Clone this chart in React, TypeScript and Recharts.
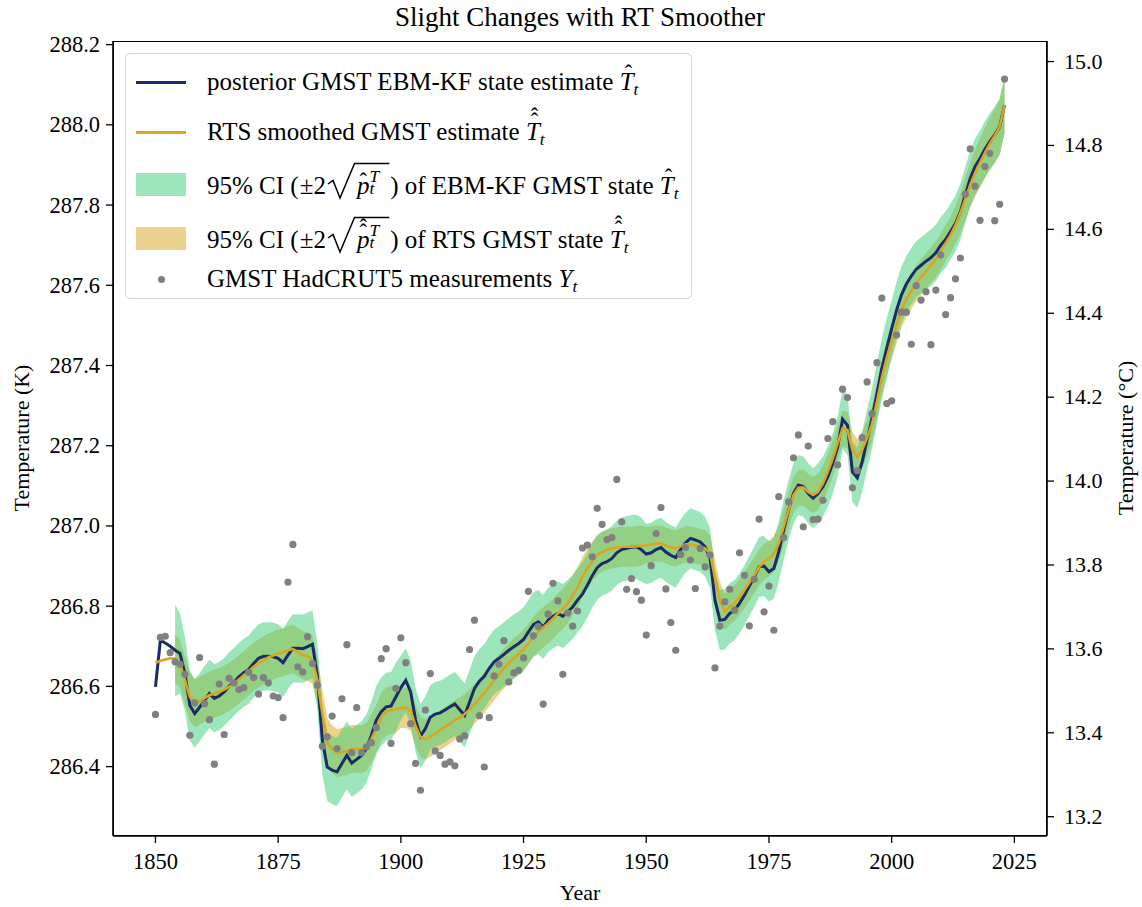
import React from 'react';
import { ComposedChart, Area, Line, Scatter, XAxis, YAxis } from 'recharts';

// annual values, 1850..2023
const firstYear = 1850;

const measured = [
  286.530, 286.722, 286.725, 286.684, 286.661, 286.655, 286.630, 286.478, 286.559, 286.672,
  286.557, 286.517, 286.406, 286.606, 286.480, 286.620, 286.609, 286.592, 286.597, 286.635,
  286.622, 286.581, 286.622, 286.609, 286.576, 286.572, 286.522, 286.860, 286.954, 286.649,
  286.636, 286.724, 286.657, 286.603, 286.451, 286.474, 286.526, 286.445, 286.569, 286.704,
  286.435, 286.547, 286.435, 286.449, 286.460, 286.497, 286.669, 286.694, 286.458, 286.595,
  286.721, 286.659, 286.507, 286.408, 286.341, 286.541, 286.632, 286.439, 286.428, 286.406,
  286.412, 286.402, 286.469, 286.477, 286.692, 286.765, 286.527, 286.399, 286.522, 286.626,
  286.655, 286.714, 286.611, 286.634, 286.640, 286.671, 286.837, 286.726, 286.749, 286.556,
  286.780, 286.857, 286.813, 286.630, 286.783, 286.750, 286.788, 286.945, 286.952, 286.923,
  287.044, 287.004, 286.966, 286.971, 287.116, 287.010, 286.842, 286.869, 286.836, 286.815,
  286.728, 286.901, 286.981, 287.046, 286.843, 286.759, 286.690, 286.929, 286.946, 286.915,
  286.844, 286.944, 286.898, 286.927, 286.646, 286.750, 286.811, 286.842, 286.790, 286.933,
  286.877, 286.751, 286.867, 287.017, 286.786, 286.850, 286.740, 287.073, 286.971, 287.060,
  287.170, 287.227, 286.998, 287.199, 287.016, 287.017, 287.064, 287.218, 287.260, 287.152,
  287.341, 287.320, 287.095, 287.138, 287.220, 287.359, 287.280, 287.407, 287.568, 287.305,
  287.312, 287.476, 287.533, 287.533, 287.453, 287.599, 287.563, 287.584, 287.452, 287.588,
  287.676, 287.527, 287.569, 287.616, 287.668, 287.827, 287.940, 287.847, 287.762, 287.896,
  287.929, 287.761, 287.802, 288.114,
];

const posterior = [
  286.599, 286.715, 286.708, 286.700, 286.690, 286.682, 286.632, 286.553, 286.532, 286.548,
  286.565, 286.582, 286.570, 286.576, 286.586, 286.600, 286.611, 286.624, 286.634, 286.642,
  286.657, 286.670, 286.675, 286.675, 286.674, 286.670, 286.659, 286.678, 286.695, 286.695,
  286.694, 286.699, 286.705, 286.624, 286.466, 286.399, 286.391, 286.387, 286.408, 286.428,
  286.409, 286.418, 286.428, 286.445, 286.478, 286.516, 286.537, 286.549, 286.551, 286.574,
  286.597, 286.615, 286.586, 286.516, 286.476, 286.495, 286.523, 286.531, 286.534, 286.541,
  286.549, 286.556, 286.542, 286.528, 286.561, 286.595, 286.613, 286.625, 286.645, 286.661,
  286.670, 286.680, 286.690, 286.699, 286.707, 286.717, 286.736, 286.754, 286.761, 286.748,
  286.765, 286.775, 286.782, 286.775, 286.786, 286.798, 286.815, 286.830, 286.852, 286.876,
  286.896, 286.906, 286.911, 286.919, 286.933, 286.941, 286.944, 286.947, 286.948, 286.941,
  286.930, 286.933, 286.941, 286.946, 286.935, 286.927, 286.921, 286.941, 286.958, 286.969,
  286.965, 286.960, 286.948, 286.920, 286.815, 286.765, 286.767, 286.782, 286.790, 286.807,
  286.827, 286.850, 286.873, 286.898, 286.900, 286.886, 286.894, 286.936, 286.990, 287.039,
  287.081, 287.102, 287.098, 287.081, 287.069, 287.081, 287.098, 287.123, 287.156, 287.197,
  287.266, 287.251, 287.135, 287.120, 287.160, 287.215, 287.268, 287.330, 287.393, 287.443,
  287.492, 287.538, 287.576, 287.603, 287.623, 287.640, 287.650, 287.660, 287.669, 287.681,
  287.700, 287.714, 287.734, 287.754, 287.783, 287.825, 287.866, 287.896, 287.916, 287.939,
  287.958, 287.975, 287.995, 288.049,
];

const smoothed = [
  286.659, 286.664, 286.667, 286.670, 286.669, 286.657, 286.616, 286.574, 286.559, 286.564,
  286.571, 286.578, 286.582, 286.586, 286.592, 286.599, 286.607, 286.617, 286.628, 286.638,
  286.649, 286.657, 286.665, 286.672, 286.677, 286.682, 286.685, 286.690, 286.693, 286.686,
  286.678, 286.675, 286.665, 286.615, 286.532, 286.462, 286.443, 286.434, 286.436, 286.439,
  286.444, 286.444, 286.443, 286.449, 286.470, 286.495, 286.524, 286.537, 286.541, 286.543,
  286.546, 286.547, 286.539, 286.501, 286.474, 286.468, 286.474, 286.482, 286.491, 286.499,
  286.507, 286.516, 286.522, 286.531, 286.542, 286.556, 286.570, 286.584, 286.599, 286.615,
  286.630, 286.645, 286.657, 286.670, 286.680, 286.692, 286.707, 286.723, 286.736, 286.747,
  286.757, 286.769, 286.782, 286.794, 286.807, 286.827, 286.846, 286.873, 286.894, 286.912,
  286.927, 286.935, 286.941, 286.944, 286.946, 286.948, 286.948, 286.948, 286.949, 286.951,
  286.952, 286.954, 286.956, 286.956, 286.952, 286.946, 286.944, 286.949, 286.954, 286.954,
  286.951, 286.948, 286.944, 286.931, 286.870, 286.815, 286.786, 286.798, 286.808, 286.823,
  286.840, 286.858, 286.877, 286.897, 286.911, 286.919, 286.931, 286.956, 286.998, 287.039,
  287.077, 287.095, 287.096, 287.085, 287.077, 287.085, 287.106, 287.135, 287.168, 287.206,
  287.243, 287.239, 287.189, 287.172, 287.190, 287.220, 287.255, 287.310, 287.370, 287.420,
  287.460, 287.500, 287.540, 287.565, 287.585, 287.605, 287.620, 287.635, 287.650, 287.665,
  287.685, 287.705, 287.725, 287.750, 287.780, 287.815, 287.850, 287.880, 287.905, 287.930,
  287.953, 287.973, 287.995, 288.049,
];

// 2*sqrt(p) half widths of the two bands (null = no band)
const kfHalf = [
  null, null, null, null, 0.115, 0.100, 0.092, 0.088, 0.085, 0.085,
  0.085, 0.085, 0.085, 0.085, 0.085, 0.085, 0.085, 0.085, 0.085, 0.085,
  0.085, 0.085, 0.085, 0.085, 0.085, 0.085, 0.085, 0.085, 0.085, 0.085,
  0.085, 0.085, 0.085, 0.085, 0.085, 0.085, 0.085, 0.085, 0.085, 0.085,
  0.085, 0.085, 0.085, 0.085, 0.085, 0.085, 0.085, 0.085, 0.085, 0.085,
  0.080, 0.080, 0.080, 0.080, 0.080, 0.080, 0.080, 0.080, 0.080, 0.080,
  0.080, 0.080, 0.080, 0.080, 0.080, 0.080, 0.080, 0.080, 0.080, 0.080,
  0.080, 0.080, 0.080, 0.080, 0.080, 0.080, 0.080, 0.080, 0.080, 0.080,
  0.080, 0.080, 0.080, 0.080, 0.080, 0.080, 0.080, 0.080, 0.080, 0.080,
  0.080, 0.080, 0.080, 0.080, 0.080, 0.080, 0.080, 0.080, 0.080, 0.080,
  0.075, 0.075, 0.075, 0.075, 0.075, 0.075, 0.075, 0.075, 0.075, 0.075,
  0.075, 0.075, 0.075, 0.075, 0.075, 0.075, 0.075, 0.075, 0.075, 0.075,
  0.075, 0.075, 0.075, 0.075, 0.075, 0.075, 0.075, 0.075, 0.075, 0.075,
  0.075, 0.075, 0.075, 0.075, 0.075, 0.075, 0.075, 0.075, 0.075, 0.075,
  0.075, 0.075, 0.075, 0.075, 0.075, 0.075, 0.075, 0.075, 0.075, 0.075,
  0.070, 0.070, 0.070, 0.070, 0.070, 0.070, 0.070, 0.070, 0.070, 0.070,
  0.070, 0.070, 0.070, 0.070, 0.070, 0.070, 0.070, 0.070, 0.070, 0.070,
  0.070, 0.070, 0.070, 0.070,
];

const rtsHalf = [
  null, null, null, null, 0.060, 0.060, 0.060, 0.060, 0.060, 0.060,
  0.060, 0.060, 0.060, 0.060, 0.060, 0.060, 0.060, 0.060, 0.060, 0.060,
  0.060, 0.060, 0.060, 0.060, 0.060, 0.060, 0.060, 0.060, 0.060, 0.060,
  0.060, 0.060, 0.060, 0.060, 0.060, 0.060, 0.060, 0.060, 0.060, 0.060,
  0.060, 0.060, 0.060, 0.060, 0.060, 0.060, 0.060, 0.060, 0.060, 0.060,
  0.050, 0.050, 0.050, 0.050, 0.050, 0.050, 0.050, 0.050, 0.050, 0.050,
  0.050, 0.050, 0.050, 0.050, 0.050, 0.050, 0.050, 0.050, 0.050, 0.050,
  0.050, 0.050, 0.050, 0.050, 0.050, 0.050, 0.050, 0.050, 0.050, 0.050,
  0.050, 0.050, 0.050, 0.050, 0.050, 0.050, 0.050, 0.050, 0.050, 0.050,
  0.050, 0.050, 0.050, 0.050, 0.050, 0.050, 0.050, 0.050, 0.050, 0.050,
  0.045, 0.045, 0.045, 0.045, 0.045, 0.045, 0.045, 0.045, 0.045, 0.045,
  0.045, 0.045, 0.045, 0.045, 0.045, 0.045, 0.045, 0.045, 0.045, 0.045,
  0.045, 0.045, 0.045, 0.045, 0.045, 0.045, 0.045, 0.045, 0.045, 0.045,
  0.045, 0.045, 0.045, 0.045, 0.045, 0.045, 0.045, 0.045, 0.045, 0.045,
  0.045, 0.045, 0.045, 0.045, 0.045, 0.045, 0.045, 0.045, 0.045, 0.045,
  0.045, 0.045, 0.045, 0.045, 0.045, 0.045, 0.045, 0.045, 0.045, 0.045,
  0.045, 0.045, 0.045, 0.047, 0.050, 0.053, 0.056, 0.059, 0.061, 0.063,
  0.065, 0.067, 0.069, 0.070,
];

const yearTicks = [1850, 1875, 1900, 1925, 1950, 1975, 2000, 2025];
const kelvinTicks = [286.4, 286.6, 286.8, 287.0, 287.2, 287.4, 287.6, 287.8, 288.0, 288.2];
const celsiusTicks = [13.2, 13.4, 13.6, 13.8, 14.0, 14.2, 14.4, 14.6, 14.8, 15.0];

const NAVY = '#1b2a68';
const GOLD = '#daa520';
const GREEN = '#3ccd78';
const GREY = '#808080';
const SERIF = 'Liberation Serif, Times New Roman, serif';

const rows = measured.map((m, i) => ({
  year: firstYear + i,
  meas: m,
  post: posterior[i],
  smooth: smoothed[i],
  kf: kfHalf[i] == null ? null : [posterior[i] - kfHalf[i], posterior[i] + kfHalf[i]],
  rts: rtsHalf[i] == null ? null : [smoothed[i] - rtsHalf[i], smoothed[i] + rtsHalf[i]],
}));

function BottomTick({ x, y, payload }: any) {
  return (
    <text x={x} y={y} dy={20} textAnchor="middle" fontFamily={SERIF} fontSize={22.5} fill="#000">
      {payload.value}
    </text>
  );
}

function LeftTick({ x, y, payload }: any) {
  return (
    <text x={x} y={y} dy={7.5} textAnchor="end" fontFamily={SERIF} fontSize={22.5} fill="#000">
      {payload.value.toFixed(1)}
    </text>
  );
}

function RightTick({ x, y, payload }: any) {
  return (
    <text x={x} y={y} dy={7} textAnchor="start" fontFamily={SERIF} fontSize={22} fill="#000">
      {payload.value.toFixed(1)}
    </text>
  );
}

const hatStyle: React.CSSProperties = {
  position: 'absolute', left: '0.22em', fontStyle: 'normal', fontSize: '0.9em', lineHeight: 1,
};
const subStyle: React.CSSProperties = { fontStyle: 'italic', fontSize: '0.7em', verticalAlign: '-0.3em' };

function HatT({ double }: { double?: boolean }) {
  return (
    <span style={{ whiteSpace: 'nowrap' }}>
      <span style={{ position: 'relative', display: 'inline-block', fontStyle: 'italic' }}>
        T
        <span style={{ ...hatStyle, top: double ? '-0.28em' : '-0.2em' }}>ˆ</span>
        {double && <span style={{ ...hatStyle, top: '-0.5em' }}>ˆ</span>}
      </span>
      <span style={subStyle}>t</span>
    </span>
  );
}

// (±2 sqrt(p_t^T)) with the radical drawn as a small path
function SqrtP({ double }: { double?: boolean }) {
  const scr: React.CSSProperties = { position: 'absolute', left: 0, fontStyle: 'italic', fontSize: '0.7em', lineHeight: 1 };
  return (
    <span style={{ whiteSpace: 'nowrap' }}>
      (<span style={{ marginLeft: 1 }}>±</span>2
      <span style={{ position: 'relative', display: 'inline-block', paddingLeft: 31, paddingRight: 6 }}>
        <svg
          style={{ position: 'absolute', left: 0, top: -7, overflow: 'visible' }}
          width="100%"
          height={42}
        >
          <path d="M 2 22 L 7 18.5 L 14 36 L 28.5 1.5" fill="none" stroke="#000" strokeWidth={1.5} strokeLinejoin="miter" />
          <line x1={28} y1={1.5} x2="100%" y2={1.5} stroke="#000" strokeWidth={1.6} />
        </svg>
        <span style={{ position: 'relative', display: 'inline-block', fontStyle: 'italic' }}>
          p
          <span style={{ ...hatStyle, left: '0.12em', top: double ? '-0.12em' : '0.02em' }}>ˆ</span>
          {double && <span style={{ ...hatStyle, left: '0.12em', top: '-0.34em' }}>ˆ</span>}
        </span>
        <span style={{ position: 'relative', display: 'inline-block', width: '0.55em', height: '1em' }}>
          <span style={{ ...scr, top: '-0.05em' }}>T</span>
          <span style={{ ...scr, top: '0.62em' }}>t</span>
        </span>
      </span>
      <span style={{ marginLeft: 1 }}>)</span>
    </span>
  );
}

const legendItems = [
  { kind: 'line', color: NAVY, text: <>posterior GMST EBM-KF state estimate <HatT /></> },
  { kind: 'line', color: GOLD, text: <>RTS smoothed GMST estimate <HatT double /></> },
  { kind: 'patch', color: '#9de6bc', text: <>95% CI <SqrtP /> of EBM-KF GMST state <HatT /></> },
  { kind: 'patch', color: '#ecd28f', text: <>95% CI <SqrtP double /> of RTS GMST state <HatT double /></> },
  { kind: 'dot', color: GREY, text: <>GMST HadCRUT5 measurements <i>Y</i><span style={subStyle}>t</span></> },
];
// vertical centres of the legend rows, page pixels
const legendRowCentres = [81, 131, 183, 237, 278];

const abs = (s: React.CSSProperties): React.CSSProperties => ({ position: 'absolute', ...s });

export default function App() {
  return (
    <div style={{ position: 'absolute', left: 0, top: 0, width: 1142, height: 907, background: '#fff', fontFamily: SERIF }}>
      <ComposedChart
        width={1142}
        height={907}
        data={rows}
        margin={{ top: 41, left: 33, right: 15, bottom: 31 }}
      >
        <XAxis
          dataKey="year"
          type="number"
          domain={[1841.35, 2031.65]}
          ticks={yearTicks}
          allowDataOverflow
          height={40}
          tickSize={7}
          tickMargin={6}
          axisLine={{ stroke: '#000', strokeWidth: 1.6 }}
          tickLine={{ stroke: '#000', strokeWidth: 1.3 }}
          tick={<BottomTick />}
        />
        <YAxis
          yAxisId="left"
          type="number"
          domain={[286.227, 288.209]}
          ticks={kelvinTicks}
          allowDataOverflow
          width={80}
          tickSize={7}
          tickMargin={6}
          axisLine={{ stroke: '#000', strokeWidth: 1.6 }}
          tickLine={{ stroke: '#000', strokeWidth: 1.3 }}
          tick={<LeftTick />}
        />
        <YAxis
          yAxisId="right"
          orientation="right"
          type="number"
          domain={[13.154, 15.049]}
          ticks={celsiusTicks}
          allowDataOverflow
          width={80}
          tickSize={7}
          tickMargin={10}
          axisLine={{ stroke: '#000', strokeWidth: 1.6 }}
          tickLine={{ stroke: '#000', strokeWidth: 1.3 }}
          tick={<RightTick />}
        />
        <Area yAxisId="left" dataKey="rts" type="linear" stroke="none" fill={GOLD} fillOpacity={0.5} isAnimationActive={false} />
        <Area yAxisId="left" dataKey="kf" type="linear" stroke="none" fill={GREEN} fillOpacity={0.5} isAnimationActive={false} />
        <Line yAxisId="left" dataKey="post" type="linear" stroke={NAVY} strokeWidth={3} dot={false} isAnimationActive={false} />
        <Line yAxisId="left" dataKey="smooth" type="linear" stroke={GOLD} strokeWidth={2.6} dot={false} isAnimationActive={false} />
        <Scatter
          yAxisId="left"
          dataKey="meas"
          fill={GREY}
          isAnimationActive={false}
          shape={(p: any) => <circle cx={p.cx} cy={p.cy} r={3.6} fill={GREY} />}
        />
      </ComposedChart>

      {/* frame */}
      <div style={abs({ left: 113, top: 41, width: 934, height: 795, border: '1.6px solid #000', boxSizing: 'border-box', pointerEvents: 'none' })} />

      {/* title and axis labels */}
      <div style={abs({ left: 0, width: 1160, top: 2, textAlign: 'center', fontSize: 27, whiteSpace: 'nowrap' })}>
        Slight Changes with RT Smoother
      </div>
      <div style={abs({ left: 480, width: 200, top: 880, textAlign: 'center', fontSize: 22 })}>Year</div>
      <div style={abs({ left: 22, top: 438, width: 0, height: 0 })}>
        <div style={{ position: 'absolute', transform: 'translate(-50%, -50%) rotate(-90deg)', whiteSpace: 'nowrap', fontSize: 22 }}>
          Temperature (K)
        </div>
      </div>
      <div style={abs({ left: 1126, top: 438, width: 0, height: 0 })}>
        <div style={{ position: 'absolute', transform: 'translate(-50%, -50%) rotate(-90deg)', whiteSpace: 'nowrap', fontSize: 22 }}>
          Temperature (°C)
        </div>
      </div>

      {/* legend */}
      <div style={abs({ left: 125, top: 53, width: 567, height: 246, background: 'rgba(255,255,255,0.8)', border: '1.5px solid #d5d5d5', borderRadius: 5, boxSizing: 'border-box' })}>
        {legendItems.map((it, i) => {
          const cy = legendRowCentres[i] - 53;
          return (
            <React.Fragment key={i}>
              {it.kind === 'line' && <div style={abs({ left: 10, top: cy - 1.5, width: 50, height: 3, background: it.color })} />}
              {it.kind === 'patch' && <div style={abs({ left: 10, top: cy - 11.5, width: 50, height: 23, background: it.color })} />}
              {it.kind === 'dot' && <div style={abs({ left: 32, top: cy - 3.5, width: 7, height: 7, borderRadius: 4, background: it.color })} />}
              <div style={abs({ left: 81, top: cy - 15, height: 30, lineHeight: '30px', fontSize: 25, whiteSpace: 'nowrap' })}>
                {it.text}
              </div>
            </React.Fragment>
          );
        })}
      </div>
    </div>
  );
}
